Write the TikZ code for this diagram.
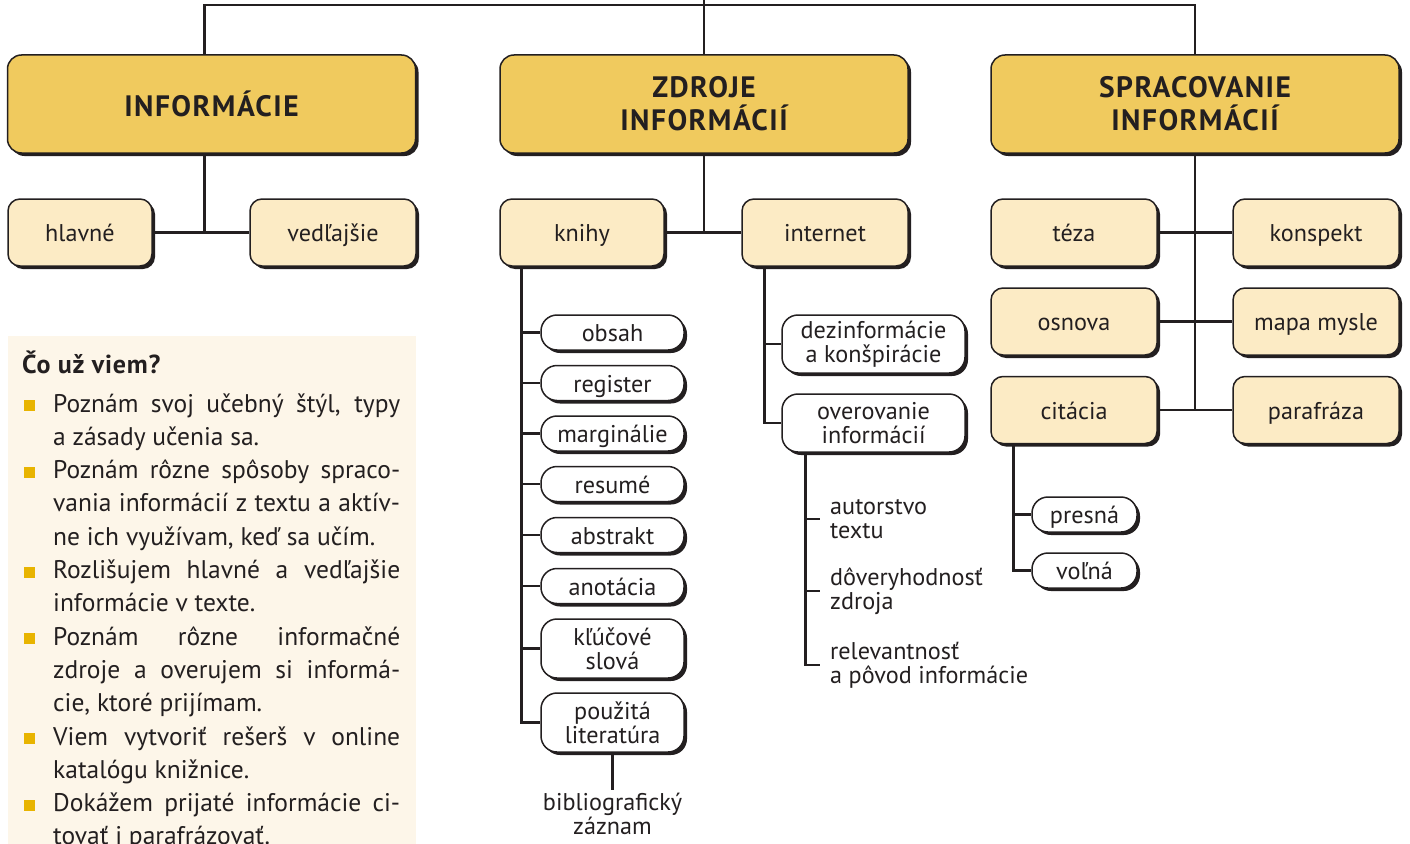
\documentclass[tikz,border=0pt]{standalone}
\usepackage{fontspec}
\setmainfont{PT Sans}
\usetikzlibrary{shadows}
\definecolor{ink}{HTML}{231F20}
\definecolor{gold}{HTML}{F0CA5E}
\definecolor{cream}{HTML}{FCEBC5}
\definecolor{note}{HTML}{FDF6E9}
\definecolor{bulletcol}{HTML}{E8B400}
\newcommand{\headfont}{\fontsize{29.5}{33}\selectfont\bfseries\addfontfeature{LetterSpace=5}}
\newcommand{\bodyfont}{\fontsize{24.2}{24}\selectfont}
\tikzset{
  boxshadow/.style={drop shadow={shadow xshift=3pt, shadow yshift=-3pt, fill=ink, opacity=1}},
  oneline/.style={text height=19pt, text depth=1pt},
  head/.style={draw=ink, line width=1.5pt, fill=gold, rounded corners=14pt, boxshadow,
    minimum width=408pt, minimum height=98pt, inner sep=0pt, align=center,
    font=\headfont, text=ink},
  topic/.style={draw=ink, line width=1.5pt, fill=cream, rounded corners=12pt, boxshadow,
    minimum width=166pt, minimum height=67pt, inner sep=0pt, oneline,
    font=\bodyfont, text=ink},
  pill/.style={draw=ink, line width=1.5pt, fill=white, rounded corners=16pt, boxshadow,
    minimum width=143pt, minimum height=35pt, inner sep=0pt, align=center,
    font=\bodyfont, text=ink},
  leaf/.style={anchor=west, align=left, inner sep=0pt,
    font=\bodyfont, text=ink},
  link/.style={draw=ink, line width=2.6pt},
}
\begin{document}
\begin{tikzpicture}[x=1pt, y=-1pt]
  \useasboundingbox[fill=white] (0,0) rectangle (1410,843);
  % what I already know
  \fill[note] (8,336) rectangle (416,870);
  \node[anchor=west, inner sep=0pt, text=ink,
    font=\fontsize{26}{28}\selectfont\bfseries\addfontfeature{LetterSpace=3}]
    (known) at (22,362) {Čo už viem?};
  \foreach \n in {0,2,5,7,10,12}
    \fill[bulletcol] (24,400+33.3*\n) rectangle ++(11,11);
  \node[anchor=base west, inner sep=0pt, text=ink] (list) at (53,412) {%
    \parbox[t]{347pt}{\fontsize{25.5}{33.3}\selectfont
    Poznám svoj učebný štýl, typy\linebreak a~zásady učenia sa.\par
    Poznám rôzne spôsoby spraco-\linebreak vania informácií z~textu a~aktív-\linebreak ne ich využívam, keď sa učím.\par
    Rozlišujem hlavné a vedľajšie\linebreak informácie v~texte.\par
    Poznám rôzne informačné\linebreak zdroje a~overujem si informá-\linebreak cie, ktoré prijímam.\par
    Viem vytvoriť rešerš v~online\linebreak katalógu knižnice.\par
    Dokážem prijaté informácie ci-\linebreak tovať i~parafrázovať.}};
  % main boxes
  \draw
    (211.5,104) node[head] (info) {INFORMÁCIE}
    (704,104) node[head] (zdroje) {ZDROJE\\INFORMÁCIÍ}
    (1195,104) node[head] (sprac) {SPRACOVANIE\\INFORMÁCIÍ};
  \draw
    (80,232.5) node[topic, minimum width=144pt] (hlavne) {hlavné}
    (333,232.5) node[topic] (vedlajsie) {vedľajšie}
    (582,232.5) node[topic, minimum width=164pt] (knihy) {knihy}
    (825,232.5) node[topic] (internet) {internet}
    (1074,232.5) node[topic] (teza) {téza}
    (1316,232.5) node[topic] (konspekt) {konspekt}
    (1074,321.5) node[topic] (osnova) {osnova}
    (1316,321.5) node[topic] (mapa) {mapa mysle}
    (1074,410) node[topic] (citacia) {citácia}
    (1316,410) node[topic] (parafraza) {parafráza};
  \draw
    (612.5,332.5) node[pill, oneline] (obsah) {obsah}
    (612.5,383) node[pill, oneline] (register) {register}
    (612.5,433.5) node[pill, oneline] (marginalie) {marginálie}
    (612.5,484) node[pill, oneline] (resume) {resumé}
    (612.5,535) node[pill, oneline] (abstrakt) {abstrakt}
    (612.5,586) node[pill, oneline] (anotacia) {anotácia}
    (612.5,648.5) node[pill, minimum height=59pt] (klucove) {kľúčové\\slová}
    (612.5,722.5) node[pill, minimum height=59pt] (pouzita) {použitá\\literatúra}
    (873.5,344) node[pill, minimum width=183pt, minimum height=58pt] (dezinf) {dezinformácie\\a konšpirácie}
    (873.5,423) node[pill, minimum width=183pt, minimum height=58pt] (overovanie) {overovanie\\informácií}
    (1084.5,514.5) node[pill, oneline, minimum width=105pt] (presna) {presná}
    (1084.5,570.5) node[pill, oneline, minimum width=105pt] (volna) {voľná};
  \draw
    (830,519) node[leaf] (autor) {autorstvo\\textu}
    (830,591) node[leaf] (doveryhodnost) {dôveryhodnosť\\zdroja}
    (830,665) node[leaf] (relevantnost) {relevantnosť\\a pôvod informácie}
    (612.5,814) node[align=center, inner sep=3pt, text=ink, font=\bodyfont]
      (bibl) {bibliografický\\záznam};
  \coordinate (bar) at (704,5);
  \coordinate (top) at (704,-2);
  \coordinate (kspine) at ([xshift=22pt]knihy.south west);
  \coordinate (ispine) at ([xshift=23pt]internet.south west);
  \coordinate (ospine) at ([xshift=24pt]overovanie.south west);
  \coordinate (cspine) at ([xshift=23pt]citacia.south west);
  \begin{scope}[link]
    \draw (zdroje.north) to (top);
    \draw ([xshift=-7pt]info.north) |- (bar) -| (sprac.north);
    \draw ([xshift=-7pt]info.south) to ([xshift=-7pt]info.south |- hlavne.east);
    \draw (hlavne.east) to (vedlajsie.west);
    \draw (zdroje.south) to (zdroje.south |- knihy.east);
    \draw (knihy.east) to (internet.west);
    \draw (sprac.south) to (sprac.south |- citacia.east);
    \draw (teza.east) to (konspekt.west);
    \draw (osnova.east) to (mapa.west);
    \draw (citacia.east) to (parafraza.west);
    \draw (kspine) |- (pouzita.west);
    \foreach \b in {obsah,register,marginalie,resume,abstrakt,anotacia,klucove}
      \draw (kspine |- \b.west) to (\b.west);
    \draw (pouzita.south) to (bibl.north);
    \draw (ispine) |- (overovanie.west);
    \draw (ispine |- dezinf.west) to (dezinf.west);
    \draw (ospine) |- ([xshift=-10pt]relevantnost.west);
    \draw (ospine |- autor.west) to ([xshift=-10pt]autor.west);
    \draw (ospine |- doveryhodnost.west) to ([xshift=-10pt]doveryhodnost.west);
    \draw (cspine) |- (volna.west);
    \draw (cspine |- presna.west) to (presna.west);
  \end{scope}
\end{tikzpicture}
\end{document}
